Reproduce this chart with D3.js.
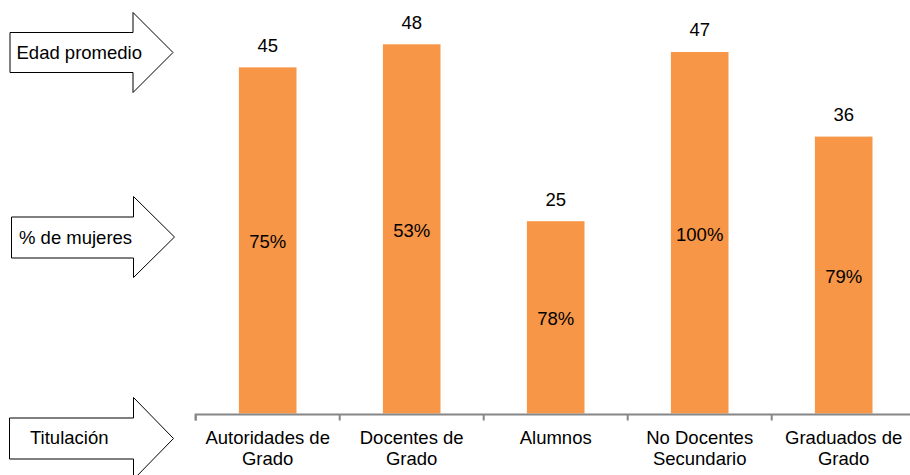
<!DOCTYPE html>
<html>
<head>
<meta charset="utf-8">
<script src="https://cdn.jsdelivr.net/npm/d3@7"></script>
<style>
  html, body { margin: 0; padding: 0; background: #fff; }
  svg { display: block; font-family: "Liberation Sans", Arial, sans-serif; }
</style>
</head>
<body>
<svg id="chart" width="910" height="475"></svg>
<script>
// ---- data ----
const categories = [
  ["Autoridades de", "Grado"],
  ["Docentes de", "Grado"],
  ["Alumnos"],
  ["No Docentes", "Secundario"],
  ["Graduados de", "Grado"]
];
const edadPromedio = [45, 48, 25, 47, 36];
const pctMujeres = ["75%", "53%", "78%", "100%", "79%"];
const rowLabels = ["Edad promedio", "% de mujeres", "Titulación"];

// ---- drawing ----
const FS = 18.5;
const svg = d3.select("#chart");
const keys = categories.map((c, i) => i);

const x = d3.scaleBand().domain(keys).range([195.7, 915.7]).paddingInner(0).paddingOuter(0);
const y = d3.scaleLinear().domain([0, 48]).range([413.5, 44.3]);
const barW = x.bandwidth() * 0.4;

// bars
svg.append("g").selectAll("rect").data(edadPromedio).join("rect")
  .attr("x", (d, i) => x(i) + (x.bandwidth() - barW) / 2)
  .attr("y", d => y(d))
  .attr("width", barW)
  .attr("height", d => y(0) - y(d))
  .attr("fill", "#F79646");

// axis
const axis = d3.axisBottom(x).tickSize(6).tickFormat("");
const ax = svg.append("g").attr("transform", `translate(0,${y(0) + 1})`).call(axis);
ax.select(".domain").attr("stroke", "#868686").attr("stroke-width", 2)
  .attr("d", `M${x.range()[0]},6V0H${x.range()[1]}`);
ax.selectAll(".tick").remove();
const bounds = keys.map(i => x(i)).concat([x.range()[1]]);
ax.selectAll("line.b").data(bounds).join("line")
  .attr("x1", d => d).attr("x2", d => d).attr("y1", 0).attr("y2", 6)
  .attr("stroke", "#868686").attr("stroke-width", 2);

// category labels
const cat = svg.append("g").selectAll("text").data(categories).join("text")
  .attr("text-anchor", "middle")
  .attr("font-size", FS)
  .attr("fill", "#000");
cat.each(function(lines, i) {
  const t = d3.select(this);
  lines.forEach((ln, j) => {
    t.append("tspan").attr("x", x(i) + x.bandwidth() / 2).attr("y", 444 + j * 21).text(ln);
  });
});

// value labels
svg.append("g").selectAll("text").data(edadPromedio).join("text")
  .attr("x", (d, i) => x(i) + x.bandwidth() / 2)
  .attr("y", d => y(d) - 15.5)
  .attr("text-anchor", "middle")
  .attr("font-size", FS)
  .attr("fill", "#000")
  .text(d => d);

// percent labels (middle of bar)
svg.append("g").selectAll("text").data(pctMujeres).join("text")
  .attr("x", (d, i) => x(i) + x.bandwidth() / 2)
  .attr("y", (d, i) => (y(edadPromedio[i]) + y(0)) / 2 + 8)
  .attr("text-anchor", "middle")
  .attr("font-size", FS)
  .attr("fill", "#000")
  .text(d => d);

// arrows
const arrows = [
  { bx: 10, by0: 32.5, by1: 72.5, hx: 133, hy0: 12.5, hy1: 92.5, tx: 173, ty: 52.5, lx: 16.5, ly: 58.5 },
  { bx: 11.5, by0: 217, by1: 258, hx: 133.5, hy0: 196.5, hy1: 277.5, tx: 174.5, ty: 237, lx: 19, ly: 244 },
  { bx: 9.5, by0: 418, by1: 459, hx: 133.5, hy0: 397.5, hy1: 479.5, tx: 173.5, ty: 438.5, lx: 30, ly: 444 }
];
const ag = svg.append("g");
arrows.forEach((a, i) => {
  const p = d3.path();
  p.moveTo(a.bx, a.by0);
  p.lineTo(a.hx, a.by0);
  p.lineTo(a.hx, a.hy0);
  p.lineTo(a.tx, a.ty);
  p.lineTo(a.hx, a.hy1);
  p.lineTo(a.hx, a.by1);
  p.lineTo(a.bx, a.by1);
  p.closePath();
  ag.append("path").attr("d", p.toString()).attr("fill", "#fff").attr("stroke", "#000").attr("stroke-width", 1);
  ag.append("text").attr("x", a.lx).attr("y", a.ly).attr("font-size", FS).attr("fill", "#000").text(rowLabels[i]);
});
</script>
</body>
</html>
